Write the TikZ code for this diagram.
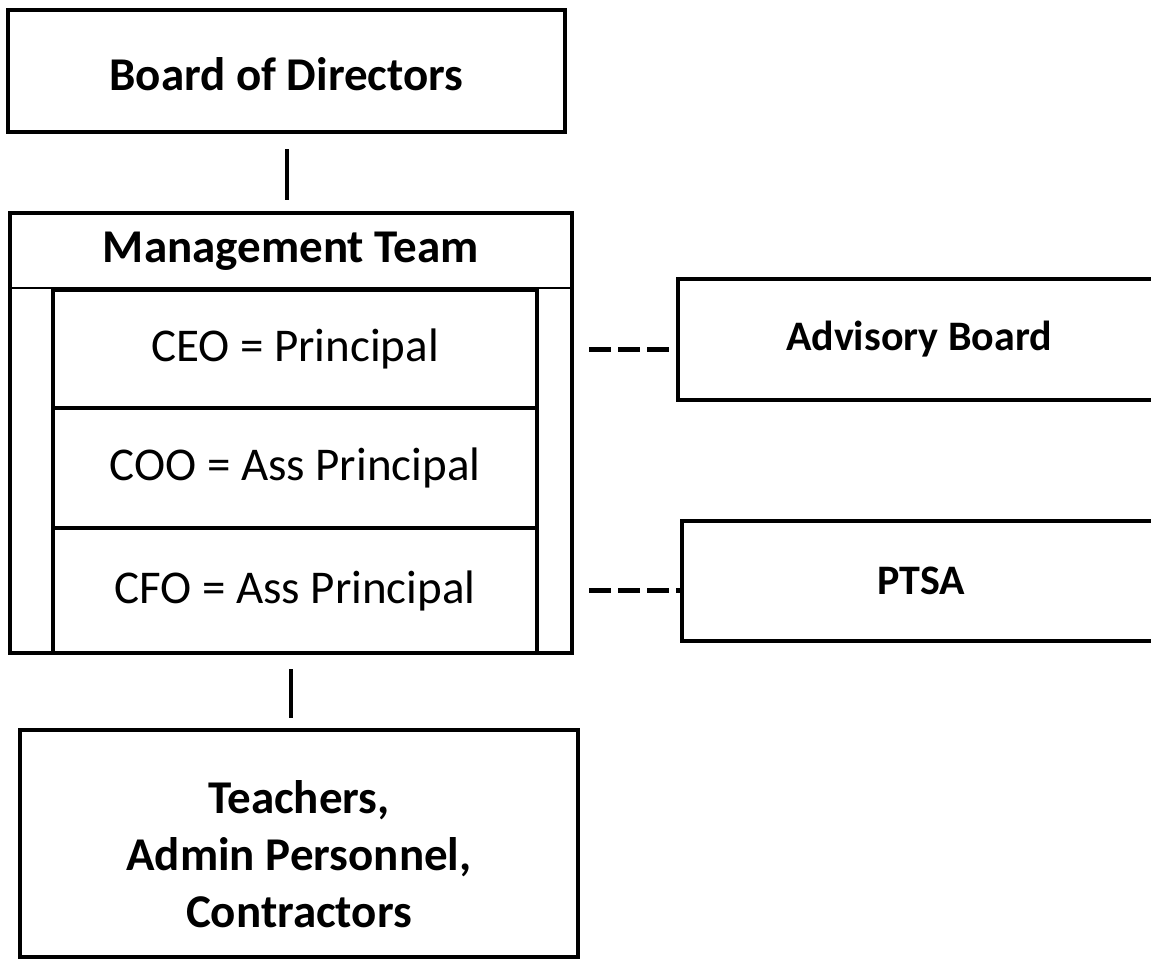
\documentclass[tikz,border=0pt]{standalone}
\usepackage{fontspec}
\setmainfont{Carlito}
\begin{document}
\begin{tikzpicture}[x=0.5pt, y=-0.5pt,
  box/.style={draw, line width=2pt, inner sep=0pt, align=center},
  bigbold/.style={font=\bfseries\fontsize{23.5}{28.5}\selectfont},
  smallbold/.style={font=\bfseries\fontsize{21}{25}\selectfont},
  rowtext/.style={font=\fontsize{23.5}{28.5}\selectfont},
  link/.style={line width=2pt},
  linkdash/.style={line width=2.5pt, dash pattern=on 11pt off 3.5pt}]

\useasboundingbox (0, 0) rectangle (1151, 965);

\node[box, bigbold, minimum width=278.5pt, minimum height=61pt] (board) at (286.5, 71) {\rule{0pt}{20pt}Board of Directors};

\node[box, minimum width=281pt, minimum height=220pt] (mgmt) at (291, 433) {};
\node[bigbold] (title) at (291, 251) {Management Team};

\node[box, rowtext, minimum width=242pt, minimum height=59pt] (ceo) at (295, 349) {CEO = Principal};
\node[box, rowtext, minimum width=242pt, minimum height=60pt] (coo) at (295, 468) {COO = Ass Principal};
\node[box, rowtext, minimum width=242pt, minimum height=62.5pt] (cfo) at (295, 590.5) {CFO = Ass Principal};

\draw[line width=1pt] (mgmt.west |- ceo.north) -- (mgmt.east |- ceo.north);

\node[box, smallbold, minimum width=241pt, minimum height=60.5pt] (advisory) at (919, 339.5) {Advisory Board};
\node[box, smallbold, minimum width=239pt, minimum height=60pt] (ptsa) at (921, 581) {PTSA};

\node[box, bigbold, minimum width=279pt, minimum height=113.5pt] (staff) at (299, 843.5) {\rule{0pt}{27pt}Teachers,\\Admin Personnel,\\Contractors};

\draw[link] ([yshift=-7.5pt]board.south) -- ([yshift=5.5pt]board.south |- mgmt.north);
\draw[link] ([yshift=-7pt]mgmt.south) -- ([yshift=5pt]mgmt.south |- staff.north);

\draw[linkdash] ([xshift=7.5pt]mgmt.east |- ceo.east) -- (advisory.west |- ceo.east);
\draw[linkdash] ([xshift=7.5pt]mgmt.east |- cfo.east) -- (ptsa.west |- cfo.east);

\end{tikzpicture}
\end{document}
